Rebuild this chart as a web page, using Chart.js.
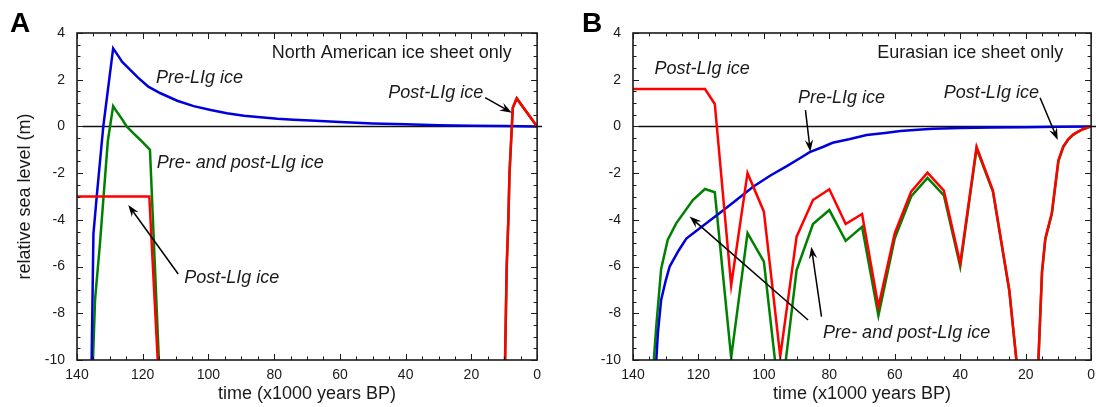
<!DOCTYPE html>
<html>
<head>
<meta charset="utf-8">
<script src="https://cdn.jsdelivr.net/npm/chart.js@4.4.1/dist/chart.umd.min.js"></script>
<style>
  body { margin: 0; background: #fff; overflow: hidden; }
  .panel { position: absolute; top: 0; width: 548px; height: 407px; }
</style>
</head>
<body>
<div class="panel" style="left:0"><canvas id="chartA"></canvas></div>
<div class="panel" style="left:548px;width:554px"><canvas id="chartB"></canvas></div>
<script>
// time in kyr BP, relative sea level in m
const xTickStep = 20;
const yTickStep = 2;
const zeroLineTime = [138.3, -1.5];
const zeroLineSea = [0, 0];

// A: North American ice sheet only
const naPreTime = [135.6, 135, 134, 132, 129, 127.3, 126.3, 124.8, 121.5, 118.3, 114.6, 109.5, 104.5, 99.3, 94.4, 89.2, 84.2, 79, 74.1, 69, 60, 50, 40, 30, 20, 10, 0];
const naPreSea  = [-10.5, -4.6, -3.0, 0.0, 3.34, 2.99, 2.77, 2.56, 2.1, 1.70, 1.42, 1.10, 0.87, 0.70, 0.56, 0.46, 0.39, 0.33, 0.29, 0.25, 0.19, 0.13, 0.09, 0.05, 0.03, 0.02, 0];
const naBothTime = [135.5, 134.5, 133, 132, 130.6, 129, 127.5, 126, 124.9, 122.8, 120.7, 117.8, 115, 12, 10, 9.25, 8.75, 8.4, 7.4, 6.2, 0];
const naBothSea  = [-11.5, -7.4, -5.0, -3.15, -0.6, 0.87, 0.55, 0.25, 0.0, -0.3, -0.58, -1.0, -10.3, null, -12, -6.0, -4.0, -2.0, 0.8, 1.2, 0];
const naPostTime = [140, 118, 115, 12, 10, 9.25, 8.75, 8.4, 7.4, 6.2, 0];
const naPostSea  = [-3, -3, -11.2, null, -12, -6.0, -4.0, -2.0, 0.8, 1.2, 0];

// B: Eurasian ice sheet only
const euPreTime = [133.3, 132.4, 131.4, 130, 128.8, 126, 123.7, 120, 117.6, 113, 108.4, 103.3, 98, 93, 89, 86, 82, 79, 74, 68.6, 63, 58.3, 53, 48.3, 40, 30, 20, 10, 0];
const euPreSea  = [-11, -8.86, -7.43, -6.6, -6.0, -5.3, -4.8, -4.4, -4.15, -3.65, -3.15, -2.58, -2.1, -1.7, -1.36, -1.1, -0.88, -0.7, -0.55, -0.37, -0.28, -0.2, -0.14, -0.1, -0.07, -0.05, -0.03, -0.015, 0];
const euBothTime = [134, 132.9, 131.4, 129.4, 126.8, 121.7, 118, 115, 110, 105, 100, 95, 90, 85, 80, 75, 70, 65, 60, 55, 50, 45, 40, 35, 30, 25, 20, 17, 15, 14, 12, 10, 8.5, 7, 5.5, 4, 2.5, 1, 0];
const euBothSea  = [-10.7, -8.57, -6.1, -4.86, -4.15, -3.15, -2.68, -2.82, -9.9, -4.57, -5.79, -12, -6.15, -4.18, -3.58, -4.9, -4.3, -8.1, -4.79, -3.0, -2.2, -2.95, -6.0, -0.95, -2.8, -7.05, -13.9, -13.1, -6.25, -4.85, -3.75, -1.5, -0.88, -0.56, -0.36, -0.23, -0.12, -0.05, 0];
const euPostTime = [140, 118, 115, 110, 105, 100, 95, 90, 85, 80, 75, 70, 65, 60, 55, 50, 45, 40, 35, 30, 25, 20, 17, 15, 14, 12, 10, 8.5, 7, 5.5, 4, 2.5, 1, 0];
const euPostSea  = [1.6, 1.6, 0.96, -6.8, -2.0, -3.65, -9.85, -4.72, -3.15, -2.69, -4.18, -3.75, -7.72, -4.57, -2.79, -1.98, -2.75, -5.86, -0.87, -2.75, -7.0, -13.9, -13.1, -6.2, -4.8, -3.7, -1.45, -0.85, -0.55, -0.35, -0.22, -0.12, -0.04, 0];

// labels: [text, time, sea, align, italic]
const naNotes = [
  ['North American ice sheet only', 7.7, 3.14, 'right', false],
  ['Pre-LIg ice', 116.0, 2.06, 'left', true],
  ['Pre- and post-LIg ice', 115.75, -1.58, 'left', true],
  ['Post-LIg ice', 107.4, -6.5, 'left', true],
  ['Post-LIg ice', 45.3, 1.44, 'left', true]
];
const naArrows = [[109.2, -6.32, 124.4, -3.36], [15.8, 1.23, 7.7, 0.59]];
const euNotes = [
  ['Eurasian ice sheet only', 8.5, 3.13, 'right', false],
  ['Post-LIg ice', 133.4, 2.45, 'left', true],
  ['Pre-LIg ice', 89.6, 1.2, 'left', true],
  ['Post-LIg ice', 45.0, 1.42, 'left', true],
  ['Pre- and post-LIg ice', 81.9, -8.83, 'left', true]
];
const euArrows = [[87.3, 0.7, 85.8, -1.08], [15.6, 1.23, 10.2, -0.58], [86.5, -8.29, 122.7, -3.86], [82.4, -8.14, 85.5, -5.15]];

const FONT = '"Liberation Sans", Arial, Helvetica, sans-serif';

function series(times, values) {
  return times.map((t, i) => ({x: t, y: values[i]}));
}

function drawArrow(ctx, x1, y1, x2, y2) {
  const a = Math.atan2(y2 - y1, x2 - x1);
  const L = 12, W = 4.2;
  const c = Math.cos(a), s = Math.sin(a);
  ctx.beginPath();
  ctx.moveTo(x1, y1);
  ctx.lineTo(x2 - c * L * 0.6, y2 - s * L * 0.6);
  ctx.stroke();
  ctx.beginPath();
  ctx.moveTo(x2, y2);
  ctx.lineTo(x2 - c * L + s * W, y2 - s * L - c * W);
  ctx.lineTo(x2 - c * L * 0.65, y2 - s * L * 0.65);
  ctx.lineTo(x2 - c * L - s * W, y2 - s * L + c * W);
  ctx.closePath();
  ctx.fill();
}

const framePlugin = {
  id: 'frame',
  afterDatasetsDraw(chart, args, opts) {
    const {ctx, chartArea: a} = chart;
    const x = chart.scales.x, y = chart.scales.y;
    ctx.save();
    ctx.strokeStyle = '#1a1a1a';
    ctx.fillStyle = '#1a1a1a';
    ctx.lineWidth = 1;
    ctx.beginPath();
    for (let t = 0; t <= 140; t += 5) {
      const px = Math.round(x.getPixelForValue(t)) + 0.5;
      const len = t % 20 === 0 ? 6 : 3.5;
      ctx.moveTo(px, a.bottom); ctx.lineTo(px, a.bottom - len);
      ctx.moveTo(px, a.top); ctx.lineTo(px, a.top + len);
    }
    for (let v = -10; v <= 4; v += 0.5) {
      const py = Math.round(y.getPixelForValue(v)) + 0.5;
      const len = v % 2 === 0 ? 6 : 3.5;
      ctx.moveTo(a.left, py); ctx.lineTo(a.left + len, py);
      ctx.moveTo(a.right, py); ctx.lineTo(a.right - len, py);
    }
    ctx.stroke();
    ctx.lineWidth = 1.6;
    ctx.strokeRect(a.left, a.top, a.right - a.left, a.bottom - a.top);

    ctx.textBaseline = 'middle';
    opts.notes.forEach(n => {
      ctx.font = (n[4] ? 'italic ' : '') + '18px ' + FONT;
      ctx.textAlign = n[3];
      ctx.fillText(n[0], x.getPixelForValue(n[1]), y.getPixelForValue(n[2]));
    });
    ctx.lineWidth = 1.5;
    ctx.strokeStyle = '#000';
    ctx.fillStyle = '#000';
    opts.arrows.forEach(r => {
      drawArrow(ctx, x.getPixelForValue(r[0]), y.getPixelForValue(r[1]),
                x.getPixelForValue(r[2]), y.getPixelForValue(r[3]));
    });
    ctx.font = 'bold 28px ' + FONT;
    ctx.textAlign = 'left';
    ctx.textBaseline = 'alphabetic';
    ctx.fillText(opts.letter, opts.letterX, 32);
    ctx.restore();
  }
};

function makeChart(id, pre, both, post, notes, arrows, letter, letterX, yWidth, yTitle) {
  const datasets = [
    {label: 'zero', data: series(zeroLineTime, zeroLineSea), borderColor: '#111', borderWidth: 1.5, clip: false, order: 3},
    {label: 'Pre- and post-LIg ice', data: both, borderColor: 'rgb(0,128,0)', borderWidth: 2.5, order: 2},
    {label: 'Pre-LIg ice', data: pre, borderColor: 'rgb(0,0,220)', borderWidth: 2.5, order: 1},
    {label: 'Post-LIg ice', data: post, borderColor: 'rgb(255,0,0)', borderWidth: 2.5, order: 0}
  ];
  return new Chart(document.getElementById(id), {
    type: 'line',
    data: {datasets: datasets},
    options: {
      responsive: true,
      maintainAspectRatio: false,
      animation: false,
      layout: {padding: {top: 33, right: 10, left: 0, bottom: 0}},
      elements: {point: {radius: 0}, line: {tension: 0, borderCapStyle: 'butt', borderJoinStyle: 'miter'}},
      plugins: {
        legend: {display: false},
        tooltip: {enabled: false},
        frame: {notes: notes, arrows: arrows, letter: letter, letterX: letterX}
      },
      scales: {
        x: {
          type: 'linear', reverse: true, min: 0, max: 140,
          afterFit: s => { s.height = 47; },
          grid: {display: false, drawTicks: false, tickLength: 0}, border: {display: false},
          ticks: {stepSize: xTickStep, padding: 7, color: '#1a1a1a', font: {family: FONT, size: 14}},
          title: {display: true, text: 'time (x1000 years BP)', color: '#1a1a1a', padding: {top: 0, bottom: 2}, font: {family: FONT, size: 18}}
        },
        y: {
          min: -10, max: 4,
          afterFit: s => { s.width = yWidth; },
          grid: {display: false, drawTicks: false, tickLength: 0}, border: {display: false},
          ticks: {stepSize: yTickStep, padding: 12, color: '#1a1a1a', font: {family: FONT, size: 14}},
          title: {display: yTitle, text: 'relative sea level (m)', color: '#1a1a1a', padding: {top: 14, bottom: 0}, font: {family: FONT, size: 18}}
        }
      }
    },
    plugins: [framePlugin]
  });
}

makeChart('chartA', series(naPreTime, naPreSea), series(naBothTime, naBothSea), series(naPostTime, naPostSea),
  naNotes, naArrows, 'A', 10, 77, true);
makeChart('chartB', series(euPreTime, euPreSea), series(euBothTime, euBothSea), series(euPostTime, euPostSea),
  euNotes, euArrows, 'B', 34, 85, false);
</script>
</body>
</html>
